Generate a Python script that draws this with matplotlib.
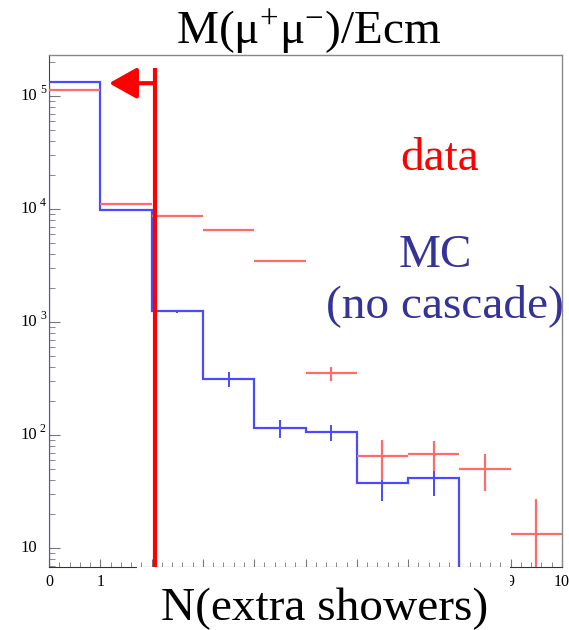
import matplotlib
matplotlib.use("Agg")
import matplotlib.pyplot as plt
import matplotlib.transforms as mtransforms
import numpy as np
from matplotlib.ticker import MultipleLocator, LogLocator, NullFormatter

plt.rcParams['font.family'] = ['Liberation Serif', 'DejaVu Serif']
plt.rcParams['mathtext.fontset'] = 'custom'
plt.rcParams['mathtext.rm'] = 'Liberation Serif'
plt.rcParams['mathtext.it'] = 'Liberation Serif'
plt.rcParams['mathtext.bf'] = 'Liberation Serif'

# bins of N(extra showers)
edges = np.arange(0, 11)
centers = edges[:-1] + 0.5
# labels 2..8 are covered on the slide
x_labels = ['0', '1', '', '', '', '', '', '', '', '9', '10']

# data (red points)
data_counts = [1.13e5, 1.11e4, 8.7e3, 6.5e3, 3.5e3, 354, 65, 68, 50, 13.3]
data_err = [330, 105, 93, 80, 59, 50, 25, 20, 18, 14]

# MC, no cascade (blue histogram)
mc_counts = [1.33e5, 9.8e3, 1.25e3, 313, 115, 106, 38, 42, 0, 2]
mc_err = [360, 100, 35, 45, 20, 18, 12, 13, 0, 5.5]

y_ticks = [10, 1e2, 1e3, 1e4, 1e5]
y_exps = ['', '2', '3', '4', '5']

cut_value = 2.07
arrow_tip = 1.17
arrow_level = 1.3e5
cut_top = 1.77e5

red = '#ff0000'
data_col = '#ff6a6a'
mc_col = '#4a4aff'
navy = '#333399'

fig = plt.figure(figsize=(5.69, 6.30), dpi=100)
ax = fig.add_axes([49/569, 63/630, 513/569, 512/630])

# MC histogram
ax.stairs(mc_counts, edges, baseline=1e-3, color=mc_col, lw=1.6, zorder=3)
ax.errorbar(centers, mc_counts, yerr=mc_err, fmt='none', ecolor=mc_col,
            elinewidth=1.4, capsize=0, zorder=3)

# data points
ax.errorbar(centers, data_counts, xerr=0.5, yerr=data_err, fmt='none',
            ecolor=data_col, elinewidth=1.6, capsize=0, zorder=4)

# cut line with arrow
ax.plot([cut_value, cut_value], [1e-3, cut_top], color=red, lw=3.0,
        solid_capstyle='butt', zorder=5)
ax.annotate('', xy=(arrow_tip, arrow_level), xytext=(cut_value, arrow_level),
            arrowprops=dict(arrowstyle='-|>,head_length=17,head_width=9.5',
                            mutation_scale=1, color=red, lw=3.0,
                            shrinkA=0, shrinkB=0), zorder=5)

ax.set_yscale('log')
ax.set_xlim(0, 10)
ax.set_ylim(6.8, 2.31e5)

ax.set_xticks(edges, x_labels)
ax.xaxis.set_minor_locator(MultipleLocator(0.2))
ax.set_yticks(y_ticks, [''] * len(y_ticks))
ax.yaxis.set_minor_locator(LogLocator(base=10, subs=np.arange(2, 10)))
ax.yaxis.set_minor_formatter(NullFormatter())

ax.tick_params(which='both', direction='in', color='#777777')
ax.tick_params(axis='x', which='major', length=6, labelsize=11.5, pad=5)
ax.tick_params(axis='x', which='minor', length=3.5)
ax.tick_params(axis='y', which='major', length=8)
ax.tick_params(axis='y', which='minor', length=4)

# ROOT style y labels: "10" with a raised exponent
ytrans = mtransforms.blended_transform_factory(fig.transFigure, ax.transData)
for val, ex in zip(y_ticks, y_exps):
    fig.text(37.5/569, val, '10', fontsize=12, ha='right', va='center',
             transform=ytrans)
    if ex:
        fig.text(40/569, val, ex, fontsize=8.5, ha='left', va='bottom',
                 transform=ytrans)

for side in ['top', 'right']:
    ax.spines[side].set_color('#888888')
    ax.spines[side].set_linewidth(1.0)
ax.spines['left'].set_color('#444444')
ax.spines['bottom'].set_color('#333333')

# white patch over the middle of the x axis (pasted over in the slide)
fig.patches.append(plt.Rectangle((137/569, 1 - 595/630), (510 - 137)/569, 28.5/630,
                                 transform=fig.transFigure, facecolor='white',
                                 edgecolor='none', zorder=10))

fig.text(309/569, 1 - 44/630, r'M($\mathrm{\mu}^{+}\mathrm{\mu}^{-}$)/Ecm', fontsize=34,
         ha='center', va='baseline', zorder=11)
fig.text(440/569, 1 - 170/630, 'data', color=red, fontsize=34,
         ha='center', va='baseline', zorder=11)
fig.text(435/569, 1 - 267/630, 'MC', color=navy, fontsize=34,
         ha='center', va='baseline', zorder=11)
fig.text(445/569, 1 - 317/630, '(no cascade)', color=navy, fontsize=34,
         ha='center', va='baseline', zorder=11)
fig.text(325/569, 1 - 620/630, 'N(extra showers)', fontsize=34,
         ha='center', va='baseline', zorder=11)

fig.savefig('out.png', dpi=100)
